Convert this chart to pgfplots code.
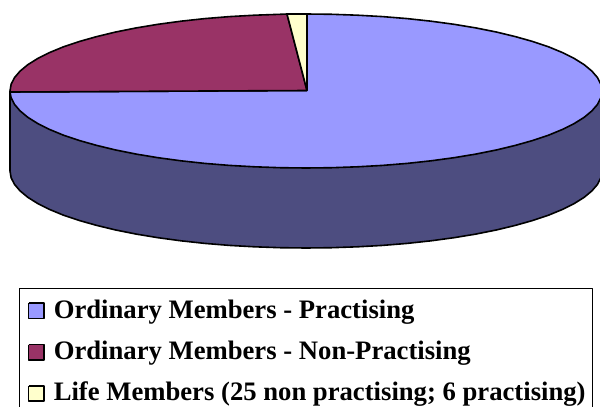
\documentclass[border=0pt]{standalone}
\usepackage{fontspec}
\setmainfont{Liberation Serif}
\usepackage{pgfplots}
\pgfplotsset{compat=1.18}
\definecolor{blueslice}{HTML}{9999FF}
\definecolor{maroonslice}{HTML}{993366}
\definecolor{yellowslice}{HTML}{FFFFCC}
\definecolor{sideblue}{HTML}{4D4D80}
\begin{document}
\begin{tikzpicture}
\begin{axis}[
    scale only axis,
    width=450pt, height=305.25pt,
    xmin=0, xmax=600, ymin=0, ymax=407,
    y dir=reverse,
    axis line style={draw=none},
    ticks=none,
    clip=true,
    every axis plot/.append style={no markers, line join=round, draw=black, line width=1.2pt},
]
% side of the pie
\addplot[fill=sideblue] coordinates {
    (10,91) (10,171) (11.1,177.7) (14.5,184.4) (20.1,190.9) (27.8,197.3) (37.7,203.5)
    (49.7,209.5) (63.5,215.2) (79.3,220.5) (96.7,225.4) (115.7,230) (136.2,234.1)
    (158,237.7) (180.9,240.8) (204.8,243.4) (229.4,245.4) (254.6,246.8) (280.2,247.7)
    (306,248) (331.8,247.7) (357.4,246.8) (382.6,245.4) (407.2,243.4) (431.1,240.8)
    (454,237.7) (475.8,234.1) (496.3,230) (515.3,225.4) (532.7,220.5) (548.5,215.2)
    (562.3,209.5) (574.3,203.5) (584.2,197.3) (591.9,190.9) (597.5,184.4) (600.9,177.7)
    (602,171) (602,91) (10,91)};
% Ordinary Members - Practising
\addplot[fill=blueslice] coordinates {
    (307,90.5) (307,14) (331.8,14.3) (357.4,15.2) (382.6,16.6) (407.2,18.6) (431.1,21.2)
    (454,24.3) (475.8,27.9) (496.3,32) (515.3,36.6) (532.7,41.5) (548.5,46.8)
    (562.3,52.5) (574.3,58.5) (584.2,64.7) (591.9,71.1) (597.5,77.6) (600.9,84.3)
    (602,91) (600.9,97.7) (597.5,104.4) (591.9,110.9) (584.2,117.3) (574.3,123.5)
    (562.3,129.5) (548.5,135.2) (532.7,140.5) (515.3,145.4) (496.3,150) (475.8,154.1)
    (454,157.7) (431.1,160.8) (407.2,163.4) (382.6,165.4) (357.4,166.8) (331.8,167.7)
    (306,168) (280.2,167.7) (254.6,166.8) (229.4,165.4) (204.8,163.4) (180.9,160.8)
    (158,157.7) (136.2,154.1) (115.7,150) (96.7,145.4) (79.3,140.5) (63.5,135.2)
    (49.7,129.5) (37.7,123.5) (27.8,117.3) (20.1,110.9) (14.5,104.4) (11.1,97.7)
    (10,92) (307,90.5)};
% Ordinary Members - Non-Practising
\addplot[fill=maroonslice] coordinates {
    (307,90.5) (10,92) (10,91) (11.1,84.3) (14.5,77.6) (20.1,71.1) (27.8,64.7)
    (37.7,58.5) (49.7,52.5) (63.5,46.8) (79.3,41.5) (96.7,36.6) (115.7,32) (136.2,27.9)
    (158,24.3) (180.9,21.2) (204.8,18.6) (229.4,16.6) (254.6,15.2) (280.2,14.3)
    (287,14) (307,90.5)};
% Life Members
\addplot[fill=yellowslice] coordinates {(307,90.5) (287,14) (307,14) (307,90.5)};
% legend box
\addplot[fill=white, line width=0.6pt] coordinates {(19.5,288) (592.5,288) (592.5,420) (19.5,420) (19.5,288)};
\addplot[fill=blueslice] coordinates {(28.5,303) (44,303) (44,318.5) (28.5,318.5) (28.5,303)};
\addplot[fill=maroonslice] coordinates {(28.5,344.5) (44,344.5) (44,360) (28.5,360) (28.5,344.5)};
\addplot[fill=yellowslice] coordinates {(28.5,386) (44,386) (44,401) (28.5,401) (28.5,386)};
\node[anchor=base west, inner sep=0pt, font=\bfseries\fontsize{20}{21}\selectfont] at (axis cs:53.5,318) {Ordinary Members - Practising};
\node[anchor=base west, inner sep=0pt, font=\bfseries\fontsize{20}{21}\selectfont] at (axis cs:53.5,359) {Ordinary Members - Non-Practising};
\node[anchor=base west, inner sep=0pt, font=\bfseries\fontsize{20}{21}\selectfont] at (axis cs:53.5,400) {Life Members (25 non practising; 6 practising)};
\end{axis}
\end{tikzpicture}
\end{document}
